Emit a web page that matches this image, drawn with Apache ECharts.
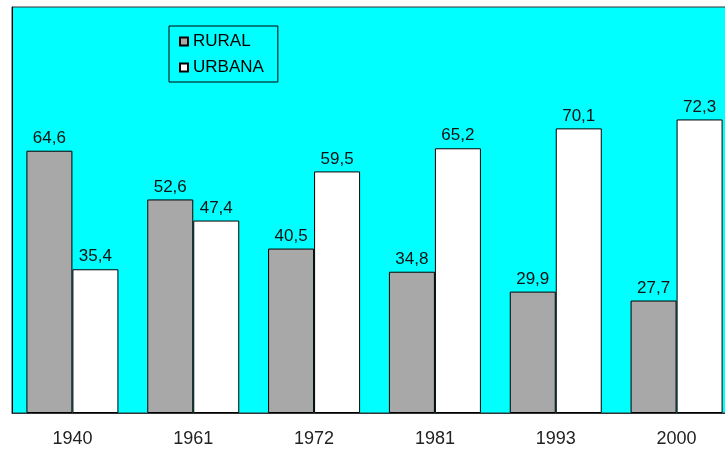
<!DOCTYPE html>
<html>
<head>
<meta charset="utf-8">
<script src="https://cdn.jsdelivr.net/npm/echarts@6/dist/echarts.min.js"></script>
<style>
  html, body { margin: 0; padding: 0; background: #fff; }
  #chart { width: 725px; height: 452px; }
</style>
</head>
<body>
<div id="chart"></div>
<script>
// datos
const years = ["1940", "1961", "1972", "1981", "1993", "2000"];
const rural = [64.6, 52.6, 40.5, 34.8, 29.9, 27.7];
const urbana = [35.4, 47.4, 59.5, 65.2, 70.1, 72.3];

const myChart = echarts.init(document.getElementById("chart"));

// 64.6 -> "64,6"
const fmt = (p) => p.value.toFixed(1).replace(".", ",");

const labelStyle = {
  show: true,
  position: "top",
  distance: 4,
  formatter: fmt,
  color: "#111",
  fontSize: 17,
  fontFamily: "Liberation Sans, Arial, sans-serif",
};

const option = {
  animation: false,
  backgroundColor: "#fff",
  grid: {
    show: true,
    left: 12,
    top: 7,
    right: -12, // the plot runs past the right edge of the picture
    bottom: 39,
    outerBoundsMode: "none",
    backgroundColor: "#00FFFF",
    borderColor: "#333",
    borderWidth: 1,
  },
  legend: {
    data: ["RURAL", "URBANA"],
    orient: "vertical",
    left: 169,
    top: 26,
    padding: [7, 14, 6, 10],
    itemWidth: 8,
    itemHeight: 8,
    itemGap: 9,
    icon: "rect",
    borderColor: "#000",
    borderWidth: 1,
    textStyle: {
      color: "#000",
      fontSize: 17,
      fontFamily: "Liberation Sans, Arial, sans-serif",
    },
  },
  xAxis: {
    type: "category",
    data: years,
    axisLine: { lineStyle: { color: "#333" } },
    axisTick: { length: 8, lineStyle: { color: "#333" } },
    axisLabel: {
      margin: 17,
      color: "#222",
      fontSize: 18,
      fontFamily: "Liberation Sans, Arial, sans-serif",
    },
  },
  yAxis: {
    type: "value",
    min: 0,
    max: 100,
    axisLine: { show: true, lineStyle: { color: "#000" } },
    axisTick: { show: false },
    axisLabel: { show: false },
    splitLine: { show: false },
  },
  series: [
    {
      name: "RURAL",
      type: "bar",
      data: rural,
      barWidth: 46,
      barGap: "0%",
      itemStyle: { color: "#A8A8A8", borderColor: "#000", borderWidth: 1 },
      label: labelStyle,
    },
    {
      name: "URBANA",
      type: "bar",
      data: urbana,
      barWidth: 46,
      itemStyle: { color: "#FFFFFF", borderColor: "#000", borderWidth: 1 },
      label: labelStyle,
    },
  ],
};

myChart.setOption(option);
</script>
</body>
</html>
